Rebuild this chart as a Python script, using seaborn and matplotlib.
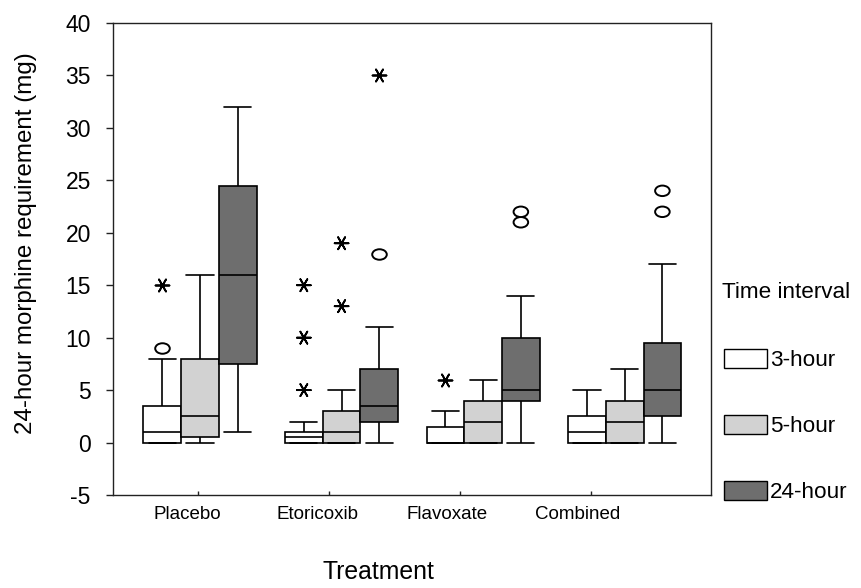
import pandas as pd
import seaborn as sns
import matplotlib.pyplot as plt
from matplotlib.patches import Patch
from matplotlib.path import Path

treatments = ["Placebo", "Etoricoxib", "Flavoxate", "Combined"]
intervals = ["3-hour", "5-hour", "24-hour"]
box_colors = ["white", "#d2d2d2", "#6e6e6e"]

# five-number summaries (treatment major, interval minor)
whis_low = [0, 0, 1,     0, 0, 0,    0, 0, 0,    0, 0, 0]
q1 = [0, 0.5, 7.5,       0, 0, 2,    0, 0, 4,    0, 0, 2.5]
median = [1, 2.5, 16,    0.5, 1, 3.5, 0, 2, 5,   1, 2, 5]
q3 = [3.5, 8, 24.5,      1, 3, 7,    1.5, 4, 10, 2.5, 4, 9.5]
whis_high = [8, 16, 32,  2, 5, 11,   3, 6, 14,   5, 7, 17]

# SPSS outliers (circles) and extremes (asterisks)
out_treat = ["Placebo", "Etoricoxib", "Flavoxate", "Flavoxate", "Combined", "Combined"]
out_int = ["3-hour", "24-hour", "24-hour", "24-hour", "24-hour", "24-hour"]
out_val = [9, 18, 21, 22, 22, 24]

ext_treat = ["Placebo", "Etoricoxib", "Etoricoxib", "Etoricoxib",
             "Etoricoxib", "Etoricoxib", "Etoricoxib", "Flavoxate"]
ext_int = ["3-hour", "3-hour", "3-hour", "3-hour", "5-hour", "5-hour", "24-hour", "3-hour"]
ext_val = [15, 5, 10, 15, 13, 19, 35, 6]

rows = []
k = 0
for t in treatments:
    for h in intervals:
        for v in (whis_low[k], q1[k], median[k], q3[k], whis_high[k]):
            rows.append((t, h, v))
        k += 1
df = pd.DataFrame(rows, columns=["Treatment", "Interval", "mg"])
df_out = pd.DataFrame({"Treatment": out_treat, "Interval": out_int, "mg": out_val})
df_ext = pd.DataFrame({"Treatment": ext_treat, "Interval": ext_int, "mg": ext_val})

sns.set_style("white")
plt.rcParams["font.family"] = ["Liberation Sans", "DejaVu Sans"]
plt.rcParams["axes.unicode_minus"] = False
plt.rcParams["text.color"] = "black"
plt.rcParams["xtick.color"] = "black"
plt.rcParams["ytick.color"] = "black"

fig = plt.figure(figsize=(8.61, 5.88), dpi=100)
ax = fig.add_axes([113 / 861, 1 - 495 / 588, 598 / 861, 472 / 588])

sns.boxplot(data=df, x="Treatment", y="mg", hue="Interval", order=treatments,
            hue_order=intervals, palette=box_colors, saturation=1, width=0.8, gap=0,
            whis=(0, 100), showfliers=False, linecolor="black", linewidth=1.2,
            legend=False, ax=ax)

# SPSS caps are wider than seaborn's: stretch the short horizontal lines
box_w = 0.8 / 3
for ln in ax.lines:
    xs, ys = ln.get_xdata(), ln.get_ydata()
    if len(xs) == 2 and ys[0] == ys[1] and abs(xs[1] - xs[0]) < 0.8 * box_w:
        c = (xs[0] + xs[1]) / 2
        ln.set_xdata([c - 0.36 * box_w, c + 0.36 * box_w])

# slightly flattened circle like the SPSS outlier symbol
circ = Path.unit_circle()
ellipse = Path(circ.vertices * [1.0, 0.72], circ.codes)

sns.stripplot(data=df_out, x="Treatment", y="mg", hue="Interval", order=treatments,
              hue_order=intervals, palette=["white"] * 3, dodge=True, jitter=False,
              marker=ellipse, size=10.5, edgecolor="black", linewidth=1.4,
              legend=False, ax=ax, zorder=5)
sns.stripplot(data=df_ext, x="Treatment", y="mg", hue="Interval", order=treatments,
              hue_order=intervals, palette=["black"] * 3, dodge=True, jitter=False,
              marker=(6, 2, 90), size=10, linewidth=1.3,
              legend=False, ax=ax, zorder=5)

ax.set_xlim(-0.615, 3.61)
ax.set_ylim(-5, 40)
ax.set_yticks(range(-5, 41, 5))
ax.tick_params(axis="y", labelsize=16.5, length=5, width=1, pad=11, left=True, color="#222222")

# category labels in the SPSS export drift left of the box groups
ax.set_xticks([i * 0.92 - 0.092 for i in range(4)], treatments)
ax.set_xticks([i * 0.925 - 0.014 for i in range(4)], minor=True)
ax.tick_params(axis="x", which="major", length=0, labelsize=13.5, pad=8)
ax.tick_params(axis="x", which="minor", direction="in", length=3, width=1,
               bottom=True, color="#222222")
ax.set_xlabel("")
ax.set_ylabel("")
for s in ax.spines.values():
    s.set_visible(True)
    s.set_color("#222222")
    s.set_linewidth(1.0)

fig.text(26 / 861, 1 - 243 / 588, "24-hour morphine requirement (mg)", rotation=90,
         ha="center", va="center", fontsize=17.4)
fig.text(378 / 861, 4 / 588, "Treatment", ha="center", va="bottom", fontsize=17.8)

fig.text(722 / 861, 1 - 292 / 588, "Time interval", ha="left", va="center", fontsize=16.2)
handles = [Patch(facecolor=c, edgecolor="black", linewidth=1.0, label=h)
           for c, h in zip(box_colors, intervals)]
fig.legend(handles=handles, loc="upper left", bbox_to_anchor=(724 / 861, 1 - 349 / 588),
           frameon=False, fontsize=16.2, handlelength=1.9, handleheight=0.95,
           handletextpad=0.15, labelspacing=1.93, borderpad=0, borderaxespad=0)

fig.savefig("out.png", dpi=100)
